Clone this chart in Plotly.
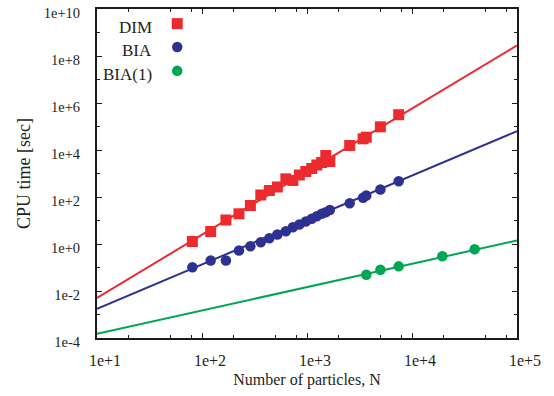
import plotly.graph_objects as go

# ---------------- data ----------------
N_shared = [81, 121, 169, 225, 289, 363, 438, 522, 629, 733, 845, 974,
            1110, 1240, 1380, 1510, 1650, 2550, 3420, 3670, 5000, 7470]
dim_time = [1.28, 3.40, 10.5, 19.3, 43.5, 122, 189, 267, 594, 504, 863, 1216,
            1633, 2301, 2938, 5834, 3243, 15530, 30000, 35080, 97000, 317700]
bia_time = [0.103, 0.199, 0.199, 0.528, 0.806, 1.19, 1.77, 2.54, 3.51, 5.19, 6.76, 9.07,
            11.8, 15.2, 19.3, 22.5, 28.0, 54.5, 92.5, 116, 208, 470]
N_bia1 = [3670, 5000, 7470, 19460, 39510]
bia1_time = [0.0489, 0.0798, 0.112, 0.303, 0.594]

# fitted power-law lines (values at the plot edges)
fit_N = [1e1, 1e5]
dim_fit = [10 ** -2.29, 10 ** 8.45]
bia_fit = [10 ** -2.76, 10 ** 4.80]
bia1_fit = [10 ** -3.82, 10 ** 0.15]

series_names = ["DIM", "BIA", "BIA(1)"]

x_ticks = [1e1, 1e2, 1e3, 1e4, 1e5]
x_ticktext = ["1e+1", "1e+2", "1e+3", "1e+4", "1e+5"]
y_ticks = [1e-4, 1e-2, 1e0, 1e2, 1e4, 1e6, 1e8, 1e10]
y_ticktext = ["1e-4", "1e-2", "1e+0", "1e+2", "1e+4", "1e+6", "1e+8", "1e+10"]

# ---------------- styles ----------------
RED = "#ed2b2f"
BLUE = "#2e3192"
GREEN = "#00a651"
TXT = "#231f20"
FONT = "Liberation Serif"

fig = go.Figure()

fig.add_trace(go.Scatter(x=fit_N, y=dim_fit, mode="lines",
                         line=dict(color=RED, width=2), showlegend=False))
fig.add_trace(go.Scatter(x=fit_N, y=bia_fit, mode="lines",
                         line=dict(color=BLUE, width=2), showlegend=False))
fig.add_trace(go.Scatter(x=fit_N, y=bia1_fit, mode="lines",
                         line=dict(color=GREEN, width=2), showlegend=False))

fig.add_trace(go.Scatter(x=N_shared, y=dim_time, mode="markers", name=series_names[0],
                         marker=dict(symbol="square", size=11, color=RED), showlegend=False))
fig.add_trace(go.Scatter(x=N_shared, y=bia_time, mode="markers", name=series_names[1],
                         marker=dict(symbol="circle", size=10.5, color=BLUE), showlegend=False))
fig.add_trace(go.Scatter(x=N_bia1, y=bia1_time, mode="markers", name=series_names[2],
                         marker=dict(symbol="circle", size=10.5, color=GREEN), showlegend=False))

# ---- custom legend (text left, symbol right) on an overlay paper-like axis ----
leg_x = 0.191
leg_y = [0.9555, 0.8845, 0.812]
leg_sym = ["square", "circle", "circle"]
leg_col = [RED, BLUE, GREEN]
leg_size = [11, 10.5, 10.5]
for i, name in enumerate(series_names):
    fig.add_trace(go.Scatter(x=[leg_x], y=[leg_y[i]], mode="markers", xaxis="x2", yaxis="y2",
                             marker=dict(symbol=leg_sym[i], size=leg_size[i], color=leg_col[i]),
                             showlegend=False, hoverinfo="skip"))
    fig.add_annotation(x=0.136, y=leg_y[i] - 0.012, xref="paper", yref="paper",
                       text=name, showarrow=False, xanchor="right", yanchor="middle",
                       font=dict(family=FONT, size=17, color=TXT))

axis_common = dict(
    type="log", showgrid=False, zeroline=False,
    showline=True, linecolor="#1a1a1a", linewidth=2, mirror="allticks",
    ticks="inside", ticklen=5, tickwidth=1, tickcolor="#1a1a1a",
    ticklabeloverflow="allow",
)

fig.update_layout(
    width=554, height=396,
    margin=dict(l=97, r=37, t=9, b=58, autoexpand=False),
    paper_bgcolor="white", plot_bgcolor="white",
    showlegend=False,
    xaxis=dict(**axis_common, range=[1, 5], tickmode="array", tickvals=x_ticks,
               ticktext=x_ticktext, ticklabelshift=8, ticklabelstandoff=7,
               tickfont=dict(family=FONT, size=16, color=TXT),
               minor=dict(tickmode="array",
                          tickvals=[m * 10 ** k for k in range(1, 5) for m in (2, 5, 8)],
                          ticks="inside", ticklen=3, tickcolor="#1a1a1a", showgrid=False),
               title=dict(text="Number of particles, N", standoff=6,
                          font=dict(family=FONT, size=16, color=TXT))),
    yaxis=dict(**axis_common, range=[-4, 10], tickmode="array", tickvals=y_ticks,
               ticktext=y_ticktext, ticklabelshift=4, ticklabelstandoff=12,
               tickfont=dict(family=FONT, size=14.5, color=TXT),
               minor=dict(tickmode="array",
                          tickvals=[10.0 ** k for k in range(-3, 10, 2)],
                          ticks="inside", ticklen=3, tickcolor="#1a1a1a", showgrid=False),
               title=dict(text="CPU time [sec]", standoff=8,
                          font=dict(family=FONT, size=18, color=TXT))),
    xaxis2=dict(overlaying="x", range=[0, 1], visible=False, fixedrange=True),
    yaxis2=dict(overlaying="y", range=[0, 1], visible=False, fixedrange=True),
)

fig.write_html("out.html", config={"displayModeBar": False},
               post_script="document.body.style.margin='0';document.body.style.overflow='hidden';")
